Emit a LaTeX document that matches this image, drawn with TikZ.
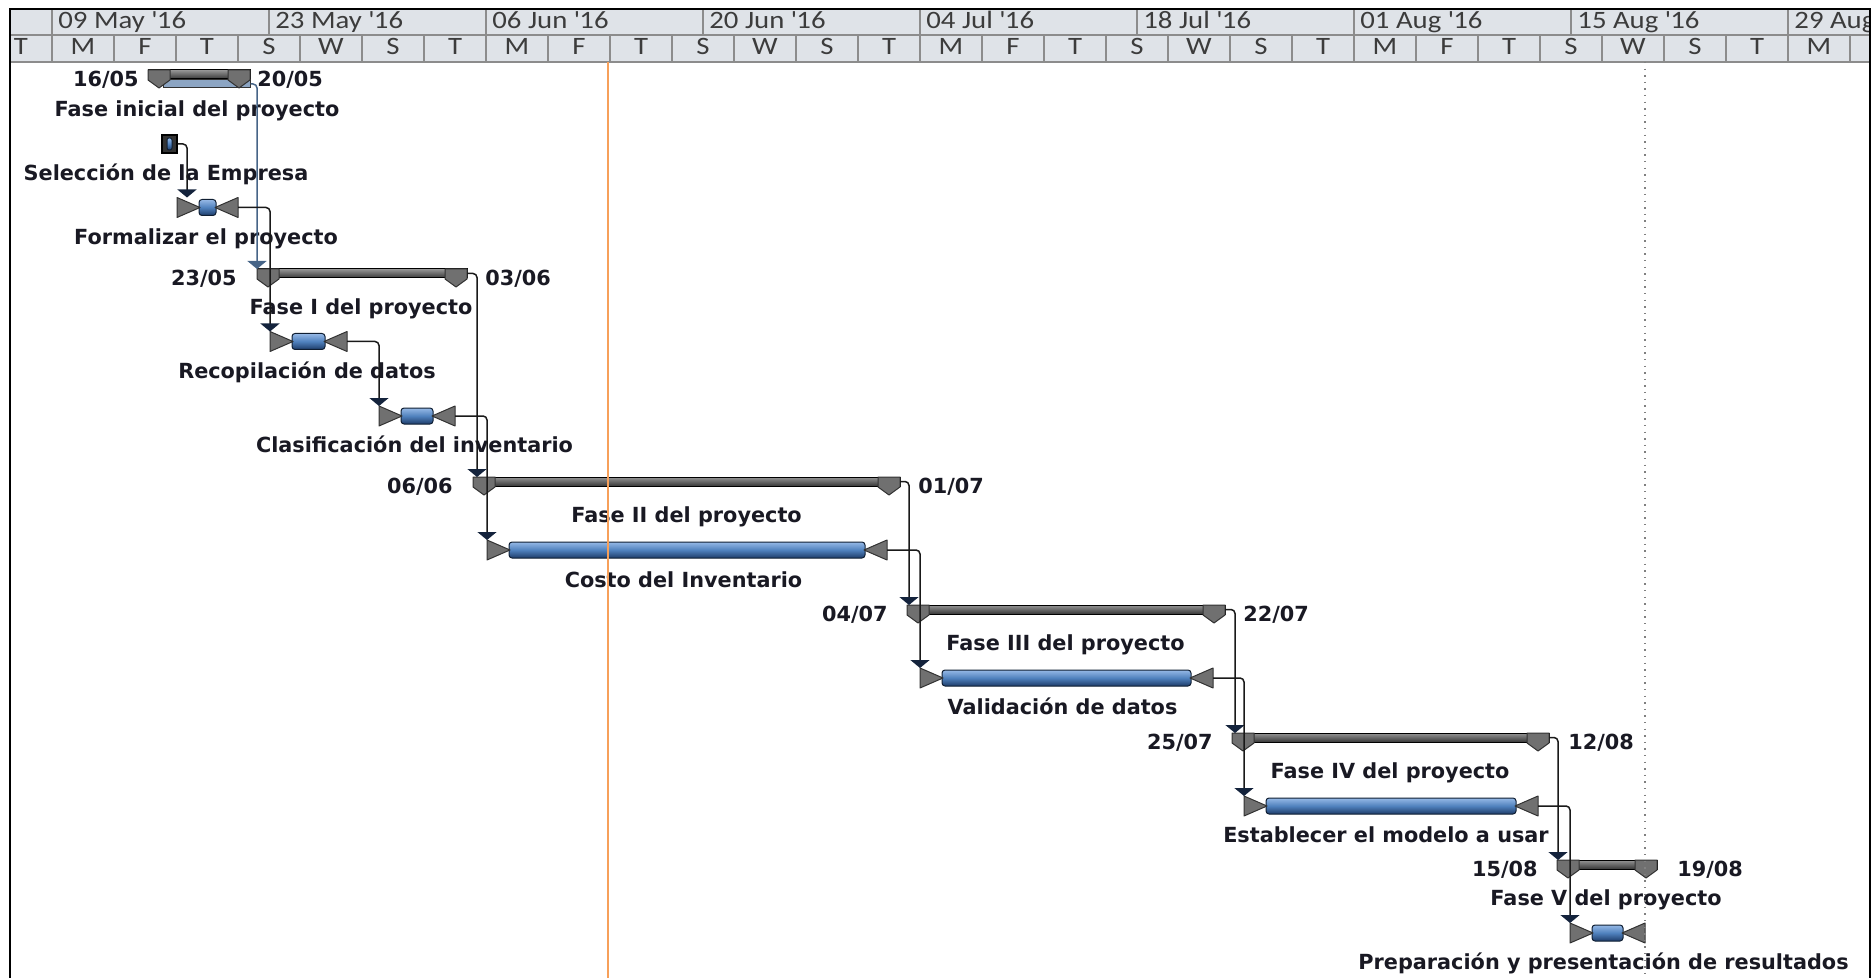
\documentclass[tikz,border=0pt]{standalone}
\usepackage{fontspec}
\setmainfont{DejaVu Sans}
\newfontfamily\hdrfont[FakeStretch=1.15]{Carlito}
\usetikzlibrary{arrows.meta,calc}

\definecolor{hdrbg}{RGB}{223,227,232}
\definecolor{hdrline}{RGB}{140,140,140}
\definecolor{hdrtext}{RGB}{60,60,60}
\definecolor{todayline}{RGB}{247,160,90}
\definecolor{bluehi}{RGB}{150,185,230}
\definecolor{bluemd}{RGB}{79,129,189}
\definecolor{bluelo}{RGB}{30,60,105}
\definecolor{bluebd}{RGB}{15,30,50}
\definecolor{markgray}{RGB}{112,112,112}
\definecolor{markbd}{RGB}{50,50,50}
\definecolor{sumhi}{RGB}{150,150,150}
\definecolor{sumlo}{RGB}{55,55,55}
\definecolor{rollblue}{RGB}{140,165,195}
\definecolor{linkblue}{RGB}{70,100,135}
\definecolor{arrownavy}{RGB}{20,35,60}
\definecolor{lbltext}{RGB}{25,25,35}

\tikzset{
  hdr/.style={font=\hdrfont\fontsize{12.5}{14}\selectfont, text=hdrtext, inner sep=0pt, text height=8pt, text depth=2pt},
  lbl/.style={font=\bfseries\fontsize{10.4}{12}\selectfont, text=lbltext, inner sep=0pt, text height=7.6pt, text depth=2pt},
  summ/.style={minimum width=#1*0.5pt, minimum height=4.5pt, inner sep=0pt, outer sep=0pt,
    draw=black, line width=0.5pt, top color=sumhi, bottom color=sumlo},
  task/.style={minimum width=#1*0.5pt, minimum height=10pt, inner sep=0pt, outer sep=0pt},
  marker/.style={fill=markgray, draw=markbd, line width=0.5pt, line join=round},
  bar/.style={draw=bluebd, line width=0.5pt, rounded corners=1.5pt, top color=bluehi, bottom color=bluelo, middle color=bluemd},
  link/.style={draw=black!90, line width=0.75pt, rounded corners=2pt, -{Triangle[width=9.5pt,length=4pt,color=arrownavy]}},
  linkb/.style={link, draw=linkblue, -{Triangle[width=9.5pt,length=4pt,color=linkblue]}}
}

\begin{document}
\begin{tikzpicture}[x=0.5pt, y=-0.5pt]
  \useasboundingbox (0,0) rectangle (1872,978);

  % timescale
  \begin{scope}
    \clip (10,9.5) rectangle (1870,978);
    \fill[hdrbg] (10,9.5) rectangle (1870,62);
    \draw[hdrline, line width=0.75pt] (10,35) -- (1870,35) (10,62) -- (1870,62);
    \foreach \d [count=\i from 0] in {09 May,23 May,06 Jun,20 Jun,04 Jul,18 Jul,01 Aug,15 Aug,29 Aug}{
      \draw[hdrline, line width=0.75pt] (52+217*\i,9.5) -- (52+217*\i,35);
      \node[hdr, anchor=west] (wk\i) at (52+217*\i+6,22.5) {\d\ \textquotesingle16};
    }
    \foreach \l [count=\k from 0] in {T,M,F,T,S,W,S,T,M,F,T,S,W,S,T,M,F,T,S,W,S,T,M,F,T,S,W,S,T,M,F}{
      \draw[hdrline, line width=0.75pt] (-10+62*\k,35) -- (-10+62*\k,62);
      \node[hdr] (dy\k) at (21+62*\k,48.5) {\l};
    }
  \end{scope}

  % summary bars
  \node[draw=markbd, fill=rollblue, line width=0.5pt, minimum width=43.5pt, minimum height=4pt, inner sep=0pt] (firoll) at (206.5,84) {};
  \node[summ=102] (fi) at (199,74.5) {};
  \node[summ=210] (f1) at (362,273.5) {};
  \node[summ=427] (f2) at (686.5,481.5) {};
  \node[summ=318] (f3) at (1066,609.5) {};
  \node[summ=317] (f4) at (1390.5,737.5) {};
  \node[summ=100] (f5) at (1607,864.5) {};
  \foreach \s in {fi,f1,f2,f3,f4,f5}{
    \filldraw[marker] (\s.north west) -- ++(22,0) -- ++(0,10) -- ++(-11,8) -- ++(-11,-8) -- cycle;
    \filldraw[marker] (\s.north east) -- ++(-22,0) -- ++(0,10) -- ++(11,8) -- ++(11,-8) -- cycle;
  }

  % task bars
  \node[draw=black, fill=black!80, line width=0.6pt, minimum width=7.5pt, minimum height=9pt, inner sep=0pt] (sel) at (169.5,144) {};
  \draw[bar, rounded corners=1pt] ($(sel.center)+(-2.5,-6)$) rectangle ($(sel.center)+(2.5,6)$);
  \node[task=61] (form) at (207.5,207.5) {};
  \node[task=77] (recop) at (308.5,341.5) {};
  \node[task=76] (clasif) at (417,416) {};
  \node[task=400] (costo) at (687,550) {};
  \node[task=293] (valid) at (1066.5,678) {};
  \node[task=294] (estab) at (1391,806) {};
  \node[task=75] (prep) at (1607.5,933) {};
  \foreach \t in {form,recop,clasif,costo,valid,estab,prep}{
    \draw[bar] ($(\t.north west)+(22,2)$) rectangle ($(\t.south east)+(-22,-2)$);
    \filldraw[marker] (\t.north west) -- (\t.south west) -- ($(\t.west)+(23,0)$) -- cycle;
    \filldraw[marker] (\t.north east) -- (\t.south east) -- ($(\t.east)+(-23,0)$) -- cycle;
  }

  % dates
  \node[lbl, anchor=east] (fiA) at (139,80.5) {16/05};
  \node[lbl, anchor=west] (fiB) at (257,80.5) {20/05};
  \node[lbl, anchor=east] (f1A) at (237,279.5) {23/05};
  \node[lbl, anchor=west] (f1B) at (485,279.5) {03/06};
  \node[lbl, anchor=east] (f2A) at (453,487.5) {06/06};
  \node[lbl, anchor=west] (f2B) at (918,487.5) {01/07};
  \node[lbl, anchor=east] (f3A) at (888,615.5) {04/07};
  \node[lbl, anchor=west] (f3B) at (1243,615.5) {22/07};
  \node[lbl, anchor=east] (f4A) at (1213,743.5) {25/07};
  \node[lbl, anchor=west] (f4B) at (1568,743.5) {12/08};
  \node[lbl, anchor=east] (f5A) at (1538,870.5) {15/08};
  \node[lbl, anchor=west] (f5B) at (1677,870.5) {19/08};

  % names
  \node[lbl] (lfi) at (197,111) {Fase inicial del proyecto};
  \node[lbl] (lsel) at (166,175) {Selección de la Empresa};
  \node[lbl] (lform) at (206,238.5) {Formalizar el proyecto};
  \node[lbl] (lf1) at (361,309) {Fase I del proyecto};
  \node[lbl] (lrecop) at (307,372.5) {Recopilación de datos};
  \node[lbl] (lclasif) at (414.5,447) {Clasificación del inventario};
  \node[lbl] (lf2) at (686.5,517) {Fase II del proyecto};
  \node[lbl] (lcosto) at (683.5,581.5) {Costo del Inventario};
  \node[lbl] (lf3) at (1065.5,645) {Fase III del proyecto};
  \node[lbl] (lvalid) at (1062.5,709) {Validación de datos};
  \node[lbl] (lf4) at (1390,773) {Fase IV del proyecto};
  \node[lbl] (lestab) at (1386,837) {Establecer el modelo a usar};
  \node[lbl] (lf5) at (1606,900) {Fase V del proyecto};
  \node[lbl] (lprep) at (1603.5,964) {Preparación y presentación de resultados};

  % links
  \draw[linkb] (firoll.east) -| (f1.north west);
  \draw[link] (sel.east) -| ($(form.north west)+(10,0)$);
  \draw[link] (form.east) -| (recop.north west);
  \draw[link] (recop.east) -| (clasif.north west);
  \draw[link] (f1.east) -| ($(f2.north west)+(4,0)$);
  \draw[link] (clasif.east) -| (costo.north west);
  \draw[link] (f2.east) -| ($(f3.north west)+(2,0)$);
  \draw[link] (costo.east) -| (valid.north west);
  \draw[link] (f3.east) -| ($(f4.north west)+(3,0)$);
  \draw[link] (valid.east) -| (estab.north west);
  \draw[link] (f4.east) -| ($(f5.north west)+(1,0)$);
  \draw[link] (estab.east) -| (prep.north west);

  % status date and finish
  \draw[todayline, line width=1pt] (608,62) -- (608,978);
  \draw[gray, line width=0.7pt, dash pattern=on 0.7pt off 2.6pt] (1645,62) -- (1645,978);

  % frame
  \draw[line width=1pt] (10,978) -- (10,9.5) -- (1870,9.5) -- (1870,978);
\end{tikzpicture}
\end{document}
